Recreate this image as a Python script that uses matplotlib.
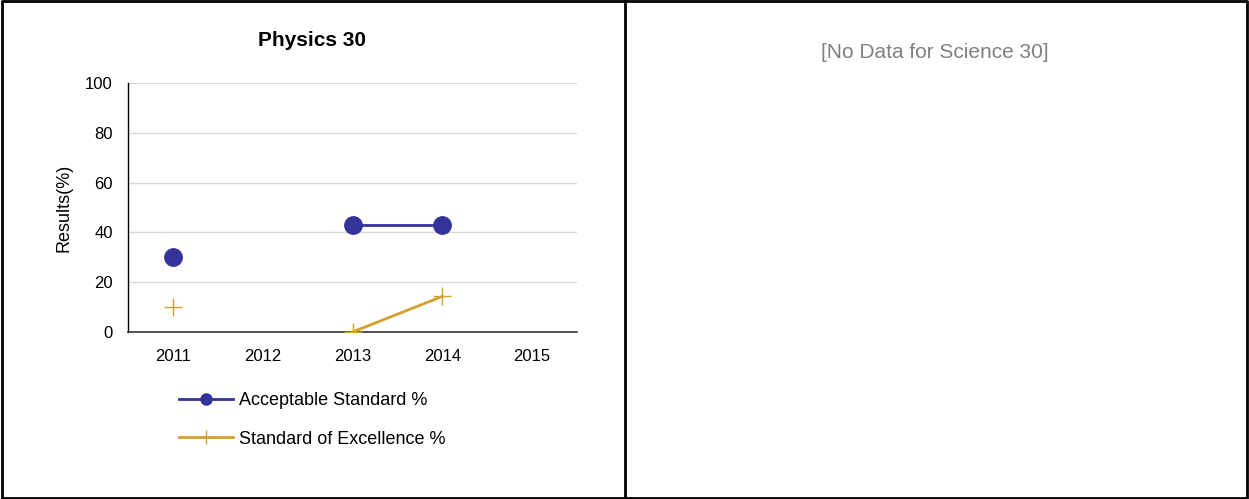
import matplotlib
matplotlib.use("Agg")
import matplotlib.pyplot as plt
from matplotlib.lines import Line2D
import numpy as np

plt.rcParams['font.family'] = ['Liberation Sans', 'DejaVu Sans']

years = ["2011", "2012", "2013", "2014", "2015"]
acceptable = [30.0, np.nan, 42.9, 42.9, np.nan]
excellence = [10.0, np.nan, 0.0, 14.3, np.nan]
series_names = ["Acceptable Standard %", "Standard of Excellence %"]
title = "Physics 30"
ylabel = "Results(%)"
no_data_text = "[No Data for Science 30]"

blue = "#333399"
gold = "#D4A02E"

W, H = 1249, 499
fig = plt.figure(figsize=(W / 100, H / 100), dpi=100)

ax = fig.add_axes([128 / W, 1 - 332 / H, (577 - 128) / W, (332 - 83) / H])
x = np.arange(len(years))
ax.plot(x, acceptable, color=blue, lw=2, marker='o', ms=12.5, zorder=3)
ax.plot(x, excellence, color=gold, lw=2, marker='+', ms=13, mew=1, zorder=3)

ax.set_xlim(-0.5, len(years) - 0.5)
ax.set_ylim(0, 100)
ax.set_yticks(np.arange(0, 101, 20))
ax.set_xticks(x)
ax.set_xticklabels(years)
ax.tick_params(axis='both', length=0, labelsize=12, colors='black')
ax.tick_params(axis='x', pad=12)
ax.tick_params(axis='y', pad=11)
ax.grid(axis='y', color='#d9d9d9', lw=1)
ax.set_axisbelow(True)
for s in ['top', 'right']:
    ax.spines[s].set_visible(False)
ax.spines['left'].set_color('black')
ax.spines['left'].set_linewidth(1)
ax.spines['bottom'].set_color('#333333')
ax.spines['bottom'].set_linewidth(1.2)
ax.set_ylabel(ylabel, fontsize=13, labelpad=9)

fig.text(312 / W, 1 - 41 / H, title, ha='center', va='center', fontsize=15, fontweight='bold')

handles = [
    Line2D([], [], color=blue, lw=2, marker='o', ms=8),
    Line2D([], [], color=gold, lw=2, marker='+', ms=10, mew=1),
]
ax.legend(handles, series_names, loc='upper left', bbox_to_anchor=(179 / W, 1 - 392 / H),
          bbox_transform=fig.transFigure, frameon=False, fontsize=13, handlelength=3.0,
          handletextpad=0.3, borderpad=0, borderaxespad=0, labelspacing=1.2)

fig.text(935 / W, 1 - 53 / H, no_data_text, ha='center', va='center', fontsize=15, color='#808080')

# frame and divider
fig.add_artist(Line2D([0.0015, 0.0015, 0.9985, 0.9985, 0.0015], [0.002, 0.998, 0.998, 0.002, 0.002],
                      transform=fig.transFigure, color='black', lw=2))
fig.add_artist(Line2D([625 / W, 625 / W], [0, 1], transform=fig.transFigure, color='black', lw=2))

fig.savefig("out.png", dpi=100)
